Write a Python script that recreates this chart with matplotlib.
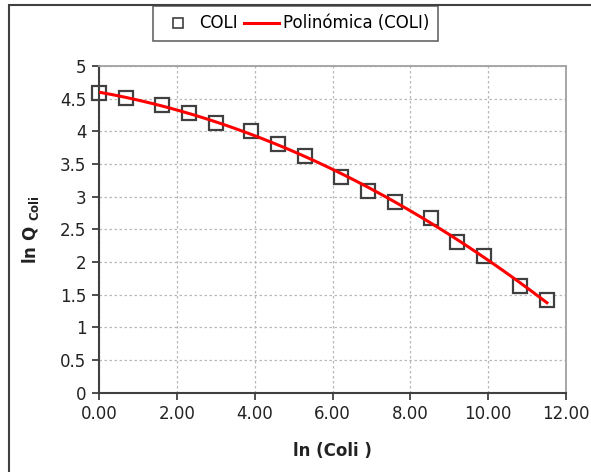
import numpy as np
import matplotlib
matplotlib.use("Agg")
import matplotlib.pyplot as plt
from matplotlib.lines import Line2D
from matplotlib.patches import Rectangle

# data: ln(Coli) vs ln Q_Coli
ln_coli = [0.00, 0.69, 1.61, 2.30, 3.00, 3.91, 4.61, 5.30,
           6.21, 6.91, 7.60, 8.52, 9.21, 9.90, 10.82, 11.51]
ln_q = [4.58, 4.51, 4.41, 4.28, 4.13, 4.01, 3.81, 3.62,
        3.30, 3.09, 2.91, 2.67, 2.31, 2.09, 1.63, 1.41]

x_ticks = [0, 2, 4, 6, 8, 10, 12]
y_ticks = [0, 0.5, 1, 1.5, 2, 2.5, 3, 3.5, 4, 4.5, 5]

plt.rcParams['font.family'] = 'DejaVu Sans'
plt.rcParams['mathtext.default'] = 'regular'

fig = plt.figure(figsize=(5.91, 4.72), dpi=100)
ax = fig.add_axes([99 / 591, 1 - 392.5 / 472, (566 - 99) / 591, (392.5 - 66) / 472])

# polynomial trend line (Excel "Polinómica", order 2)
coef = np.polyfit(ln_coli, ln_q, 2)
xs = np.linspace(min(ln_coli), max(ln_coli), 200)
ax.plot(xs, np.polyval(coef, xs), color='#ff0000', lw=2.2, zorder=3)

ax.plot(ln_coli, ln_q, linestyle='none', marker='s', markersize=9.5,
        markerfacecolor='white', markeredgecolor='#404040', markeredgewidth=1.6,
        zorder=2, clip_on=False)

ax.set_xlim(0, 12)
ax.set_ylim(0, 5)
ax.set_xticks(x_ticks)
ax.set_xticklabels([f"{v:.2f}" for v in x_ticks])
ax.set_yticks(y_ticks)
ax.set_yticklabels([f"{v:g}" for v in y_ticks])
ax.tick_params(direction='out', length=5, width=1.3, color='#404040',
               labelsize=12, labelcolor='#222222', pad=4)

ax.grid(True, color='#b8b8b8', linestyle=(0, (2, 2)), linewidth=0.9)
ax.set_axisbelow(True)
for side in ['left', 'bottom']:
    ax.spines[side].set_color('#404040')
    ax.spines[side].set_linewidth(1.5)
for side in ['top', 'right']:
    ax.spines[side].set_color('#a0a0a0')
    ax.spines[side].set_linewidth(1.3)

ax.set_xlabel('ln (Coli )', fontsize=12, fontweight='bold', color='#222222', labelpad=14)
ax.set_ylabel('ln Q $_{Coli}$', fontsize=12, fontweight='bold', color='#222222', labelpad=14)

handles = [
    Line2D([], [], linestyle='none', marker='s', markersize=6.5,
           markerfacecolor='white', markeredgecolor='#404040', markeredgewidth=1.2),
    Line2D([], [], color='#ff0000', lw=2.2),
]
leg = fig.legend(handles, ['COLI', 'Polinómica (COLI)'], loc='center',
                 bbox_to_anchor=(295 / 591, 1 - 23.5 / 472), ncol=2, fontsize=12,
                 frameon=True, fancybox=False, handlelength=2.1, handletextpad=0.2,
                 columnspacing=0.4, borderpad=0.5)
leg.get_frame().set_edgecolor('#404040')
leg.get_frame().set_linewidth(1.2)

# outer chart border
fig.patches.append(Rectangle((9 / 591, -0.05), 1.1, 1.05 - 5 / 472, transform=fig.transFigure,
                             fill=False, edgecolor='#404040', linewidth=1.5, zorder=0))

fig.savefig('out.png', dpi=100)
